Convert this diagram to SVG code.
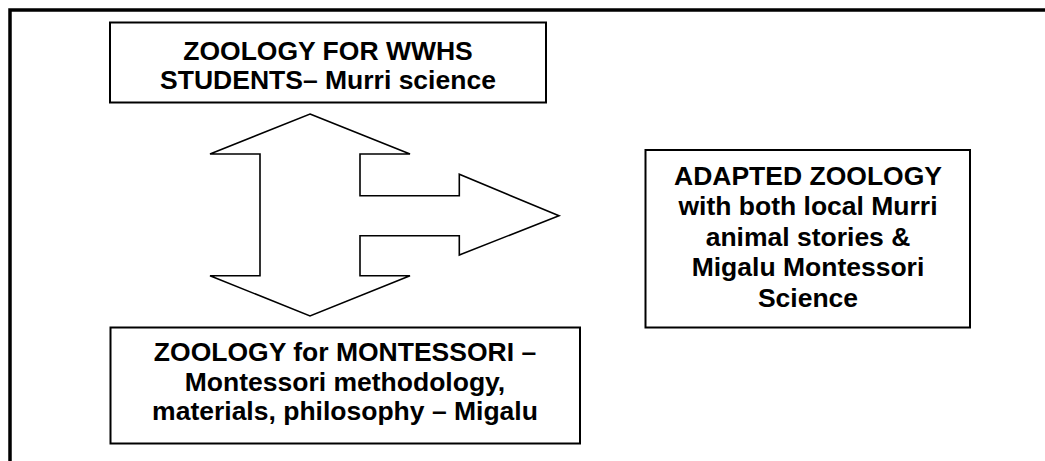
<svg xmlns="http://www.w3.org/2000/svg" width="1045" height="461" viewBox="0 0 1045 461">
<style>
.box{fill:#fff;stroke:#000;stroke-width:2}
.t{font-family:"Liberation Sans",Arial,sans-serif;font-weight:bold;font-size:26.5px;fill:#000;text-anchor:middle}
.frame{fill:none;stroke:#000;stroke-width:3.5}
.arrow{fill:#fff;stroke:#000;stroke-width:1.6;stroke-linejoin:miter}
</style>
<rect width="1045" height="461" fill="#fff"/>
<path class="frame" d="M10,461 V10 H1045"/>
<g id="connectors">
<polygon class="arrow" points="310,114 410,154 360,154 360,195.7 459.3,195.7 459.3,174.3 559,215.7 459.3,255 459.3,235.7 360,235.7 360,275.7 410,275.7 310,316 210,275.7 260,275.7 260,154 210,154"/>
</g>
<g id="node-wwhs">
<rect class="box" x="110" y="22.5" width="436" height="80"/>
<text class="t" x="328" y="60.3">ZOOLOGY FOR WWHS</text>
<text class="t" x="328" y="89">STUDENTS– Murri science</text>
</g>
<g id="node-montessori">
<rect class="box" x="110.5" y="327.5" width="469.5" height="116"/>
<text class="t" x="345" y="361.3">ZOOLOGY for MONTESSORI –</text>
<text class="t" x="345" y="391">Montessori methodology,</text>
<text class="t" x="345" y="420">materials, philosophy – Migalu</text>
</g>
<g id="node-adapted">
<rect class="box" x="645.5" y="150" width="324.5" height="177.5"/>
<text class="t" x="808" y="185">ADAPTED ZOOLOGY</text>
<text class="t" x="808" y="215">with both local Murri</text>
<text class="t" x="808" y="245.5">animal stories &amp;</text>
<text class="t" x="808" y="276">Migalu Montessori</text>
<text class="t" x="808" y="306.5">Science</text>
</g>
</svg>
